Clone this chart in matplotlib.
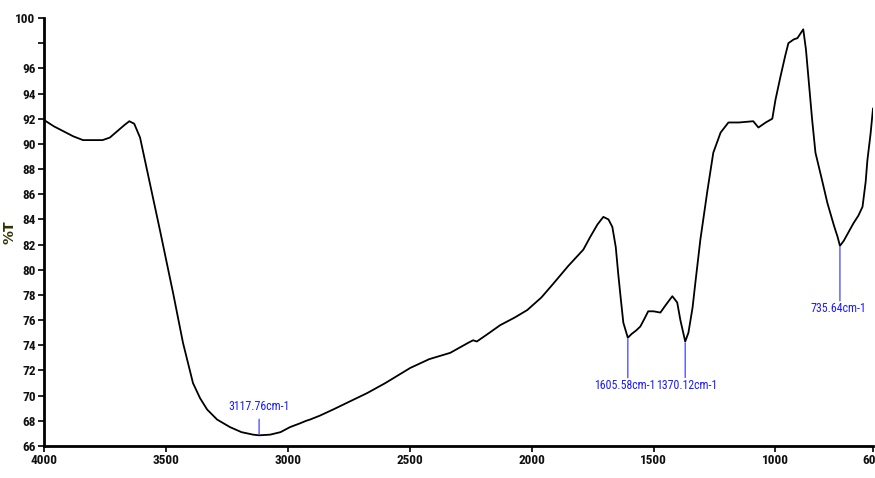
import matplotlib
matplotlib.use("Agg")
import matplotlib.pyplot as plt
from matplotlib import font_manager
from matplotlib.font_manager import FontProperties
import numpy as np

# FTIR transmittance spectrum
wavenumber = [4000, 3960, 3920, 3880, 3840, 3800, 3760, 3730, 3700, 3670, 3650,
              3630, 3606, 3565, 3524, 3483, 3471, 3430, 3389, 3360, 3331, 3290,
              3237, 3190, 3142, 3117.76, 3073, 3030, 2991, 2950, 2925, 2909, 2870,
              2814, 2750, 2675, 2600, 2498, 2420, 2334, 2260, 2240, 2225, 2180,
              2129, 2070, 2018, 1960, 1911, 1850, 1788, 1760, 1730, 1706, 1685,
              1669, 1655, 1645, 1635, 1624, 1605.58, 1590, 1570, 1554, 1535, 1522,
              1500, 1472, 1450, 1423, 1403, 1390, 1370.12, 1357, 1340, 1329, 1308,
              1279, 1255, 1225, 1193, 1150, 1091, 1070, 1040, 1013, 1000, 980,
              960, 947, 925, 910, 886, 875, 865, 850, 836, 810, 787, 760, 745,
              735.64, 720, 700, 680, 660, 643, 630, 623, 610, 600]
transmittance = [91.9, 91.4, 91.0, 90.6, 90.3, 90.3, 90.3, 90.5, 91.0, 91.5, 91.8,
                 91.6, 90.5, 86.8, 83.1, 79.3, 78.2, 74.2, 71.0, 69.8, 68.9, 68.1,
                 67.5, 67.1, 66.9, 66.85, 66.9, 67.1, 67.5, 67.8, 68.0, 68.1, 68.4,
                 68.9, 69.5, 70.2, 71.0, 72.2, 72.9, 73.4, 74.2, 74.4, 74.3, 74.9,
                 75.6, 76.2, 76.8, 77.8, 78.9, 80.3, 81.6, 82.6, 83.6, 84.2, 84.0,
                 83.4, 81.8, 79.7, 77.8, 75.8, 74.6, 74.9, 75.2, 75.5, 76.2, 76.7,
                 76.7, 76.6, 77.2, 77.9, 77.4, 76.0, 74.3, 75.0, 77.0, 78.9, 82.4,
                 86.3, 89.3, 90.9, 91.7, 91.7, 91.8, 91.3, 91.7, 92.0, 93.5, 95.3,
                 97.0, 98.0, 98.3, 98.4, 99.1, 97.5, 95.3, 92.0, 89.3, 87.2, 85.3, 83.5, 82.6,
                 81.9, 82.3, 83.0, 83.7, 84.3, 85.0, 87.0, 88.7, 90.8, 92.8]

peaks = [3117.76, 1605.58, 1370.12, 735.64]

x_ticks = [4000, 3500, 3000, 2500, 2000, 1500, 1000, 600]
x_tick_labels = ["4000", "3500", "3000", "2500", "2000", "1500", "1000", "600"]
y_ticks = list(range(66, 101, 2))
y_tick_labels = [("" if v == 98 else str(v)) for v in y_ticks]


def _is_narrow(entry):
    st = entry.stretch
    if isinstance(st, str):
        narrow = "condensed" in st.lower()
    else:
        narrow = st < 500
    return narrow or "Narrow" in entry.name or "Condensed" in entry.name


def _weight(entry):
    w = entry.weight
    if isinstance(w, str):
        return 700 if "bold" in w.lower() else 400
    return int(w)


def pick_font(bold):
    cands = [f for f in font_manager.fontManager.ttflist
             if _is_narrow(f) and f.style == "normal"]
    if bold:
        pool = [f for f in cands if _weight(f) >= 600] or cands
    else:
        pool = [f for f in cands if _weight(f) < 600] or cands
    order = ["Liberation Sans Narrow", "Arial Narrow", "Roboto Condensed",
             "Open Sans Condensed", "DejaVu Sans", "Noto Sans"]
    pool.sort(key=lambda f: (order.index(f.name) if f.name in order else 99))
    return pool[0].fname if pool else None


bold_file = pick_font(True)
reg_file = pick_font(False)


def fp(fname, size, fallback_weight):
    if fname:
        return FontProperties(fname=fname, size=size)
    return FontProperties(family="Liberation Sans", weight=fallback_weight,
                          size=size * 0.8)


tick_fp = fp(bold_file, 9.5, "bold")
note_fp = fp(reg_file, 8.6, "normal")

fig = plt.figure(figsize=(8.75, 4.78), dpi=100)
ax = fig.add_axes([44 / 875, 1 - 446 / 478, (873 - 44) / 875, (446 - 18) / 478])

ax.plot(wavenumber, transmittance, color="black", lw=1.3)
ax.set_xlim(4000, 600)
ax.set_ylim(66, 100)

for s in ("top", "right"):
    ax.spines[s].set_visible(False)
for s in ("left", "bottom"):
    ax.spines[s].set_linewidth(2.0)

ax.set_xticks(x_ticks)
ax.set_xticklabels(x_tick_labels)
ax.set_yticks(y_ticks)
ax.set_yticklabels(y_tick_labels)
ax.tick_params(axis="both", direction="out", width=1.2, length=4, pad=2)
for lab in ax.get_xticklabels() + ax.get_yticklabels():
    lab.set_fontproperties(tick_fp)
    lab.set_color("#111111")

ax.set_ylabel("%T", fontsize=10, fontweight="bold", color="#333300",
              fontfamily="DejaVu Sans")
ax.yaxis.set_label_coords(-27 / 829, 0.5)

# peak markers: line length in pixels (negative = drawn above the curve),
# plus a small sideways nudge of the label in pixels
tails = [-16, 40, 36, 55]
nudges = [0, -3, 2, -2]
blue_text = "#1a1aff"
blue_line = "#5555ff"
for wn, length, dx in zip(peaks, tails, nudges):
    t = np.interp(wn, wavenumber[::-1], transmittance[::-1])
    label = f"{wn:.2f}cm-1"
    ax.annotate("", xy=(wn, t), xytext=(0, -length), textcoords="offset pixels",
                arrowprops=dict(arrowstyle="-", color=blue_line, lw=1.0,
                                shrinkA=0, shrinkB=1))
    if length < 0:
        ax.annotate(label, xy=(wn, t), xytext=(dx, -length + 6),
                    textcoords="offset pixels", ha="center", va="bottom",
                    fontproperties=note_fp, color=blue_text)
    else:
        ax.annotate(label, xy=(wn, t), xytext=(dx, -length - 1),
                    textcoords="offset pixels", ha="center", va="top",
                    fontproperties=note_fp, color=blue_text)

fig.savefig("out.png", dpi=100)
